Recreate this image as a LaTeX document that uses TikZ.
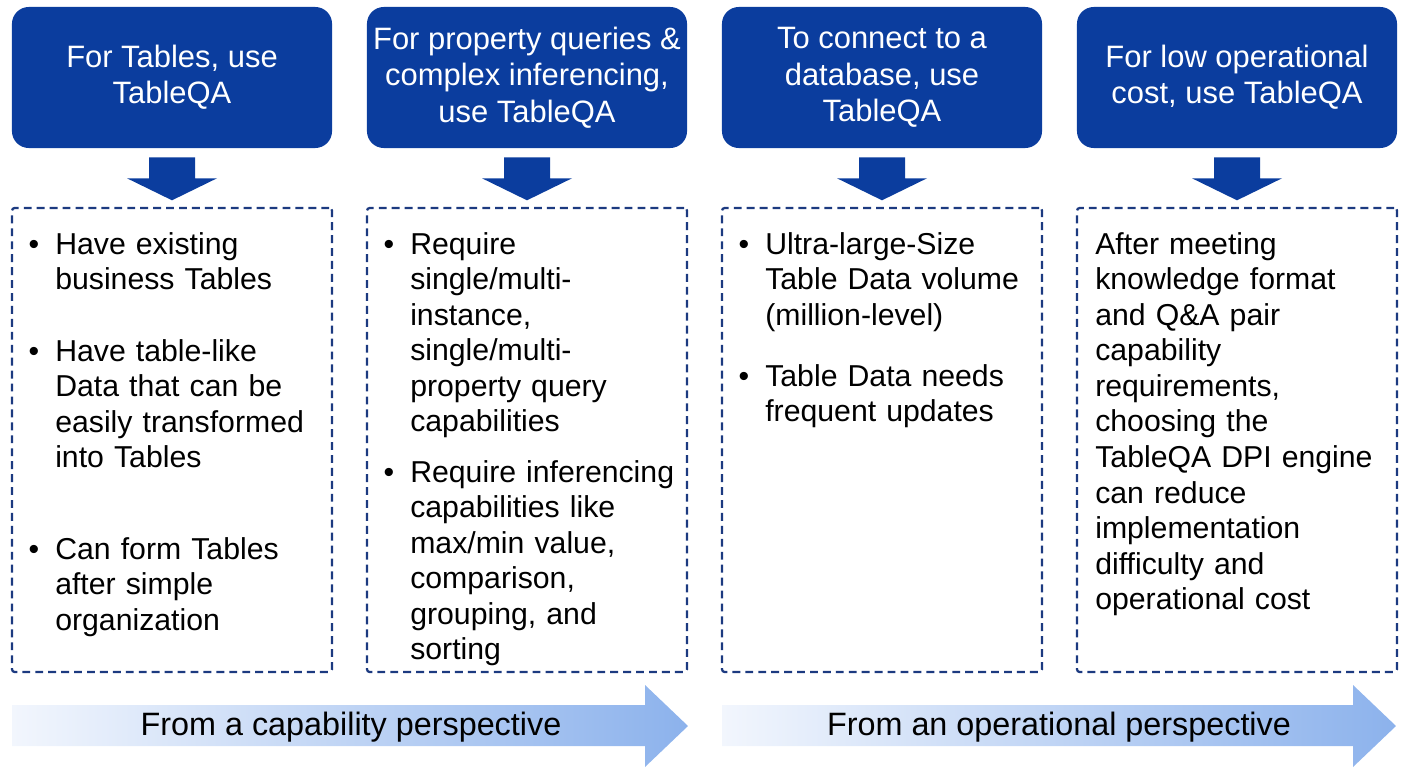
\documentclass[tikz,border=0pt]{standalone}
\usepackage{fontspec}
\setmainfont{Liberation Sans}
\usetikzlibrary{calc}
\definecolor{hdrblue}{RGB}{11,61,158}
\definecolor{dashblue}{RGB}{28,58,128}
\definecolor{fadeleft}{RGB}{242,246,253}
\definecolor{faderight}{RGB}{140,178,236}
\tikzset{
	hdrbox/.style={fill=hdrblue, text=white, rounded corners=12pt, minimum width=8cm, minimum height=3.525cm, align=center, font=\fontsize{22}{25.8}\selectfont},
	dashbox/.style={draw=dashblue, line width=1.6pt, dash pattern=on 5.6pt off 3.6pt, rounded corners=2pt, minimum width=8cm, minimum height=11.6cm},
	itemtext/.style={anchor=base west, align=left, text width=7.4cm, inner sep=0pt, font=\fontsize{21.5}{25.3}\selectfont},
	bul/.style={anchor=base, inner sep=0pt, font=\fontsize{21.5}{25.3}\selectfont},
	banner/.style={font=\fontsize{23}{27}\selectfont, anchor=base}
}
\def\blockdown(#1){\fill[hdrblue] ($(#1)+(-23,9)$) -- ($(#1)+(23,9)$) -- ($(#1)+(23,30)$) -- ($(#1)+(45,30)$) -- ($(#1)+(0,52)$) -- ($(#1)+(-45,30)$) -- ($(#1)+(-23,30)$) -- cycle;}
\begin{document}
\begin{tikzpicture}[x=0.025cm, y=-0.025cm]
		%%%%% START %%%%%
		\useasboundingbox (0, 0) rectangle (1408, 768);
		
		% headers
		\node[hdrbox] (hdrA) at (172, 77.5) {For Tables, use\\TableQA};
		\node[hdrbox] (hdrB) at (527, 77.5) {For property queries \&\\complex inferencing,\\use TableQA};
		\node[hdrbox] (hdrC) at (882, 77.5) {To connect to a\\database, use\\TableQA};
		\node[hdrbox] (hdrD) at (1237, 77.5) {For low operational\\cost, use TableQA};
		
		% block arrows
		\blockdown(hdrA.south)
		\blockdown(hdrB.south)
		\blockdown(hdrC.south)
		\blockdown(hdrD.south)
		
		% dashed boxes
		\node[dashbox] (boxA) at (172, 440) {};
		\node[dashbox] (boxB) at (527, 440) {};
		\node[dashbox] (boxC) at (882, 440) {};
		\node[dashbox] (boxD) at (1237, 440) {};
		
		% first column
		\node[bul] (bA1) at (34, 254) {\textbullet};
		\node[itemtext] (tA1) at (55, 254) {Have existing\\business Tables};
		\node[bul] (bA2) at (34, 361) {\textbullet};
		\node[itemtext] (tA2) at (55, 361) {Have table-like\\Data that can be\\easily transformed\\into Tables};
		\node[bul] (bA3) at (34, 559) {\textbullet};
		\node[itemtext] (tA3) at (55, 559) {Can form Tables\\after simple\\organization};
		
		% second column
		\node[bul] (bB1) at (389, 254) {\textbullet};
		\node[itemtext] (tB1) at (410, 254) {Require\\single/multi-\\instance,\\single/multi-\\property query\\capabilities};
		\node[bul] (bB2) at (389, 482) {\textbullet};
		\node[itemtext] (tB2) at (410, 482) {Require inferencing\\capabilities like\\max/min value,\\comparison,\\grouping, and\\sorting};
		
		% third column
		\node[bul] (bC1) at (744, 254) {\textbullet};
		\node[itemtext] (tC1) at (765, 254) {Ultra-large-Size\\Table Data volume\\(million-level)};
		\node[bul] (bC2) at (744, 386) {\textbullet};
		\node[itemtext] (tC2) at (765, 386) {Table Data needs\\frequent updates};
		
		% fourth column
		\node[itemtext] (tD1) at (1095, 254) {After meeting\\knowledge format\\and Q\&A pair\\capability\\requirements,\\choosing the\\TableQA DPI engine\\can reduce\\implementation\\difficulty and\\operational cost};
		
		% perspective arrows
		\shade[left color=fadeleft, right color=faderight] (12, 705) -- (645, 705) -- (645, 685) -- (688, 726) -- (645, 767) -- (645, 746) -- (12, 746) -- cycle;
		\shade[left color=fadeleft, right color=faderight] (722, 705) -- (1353, 705) -- (1353, 685) -- (1396, 726) -- (1353, 767) -- (1353, 746) -- (722, 746) -- cycle;
		\node[banner] (capab) at (351, 735) {From a capability perspective};
		\node[banner] (oper) at (1059, 735) {From an operational perspective};
		
		%%%%% END %%%%%
	\end{tikzpicture}
\end{document}
